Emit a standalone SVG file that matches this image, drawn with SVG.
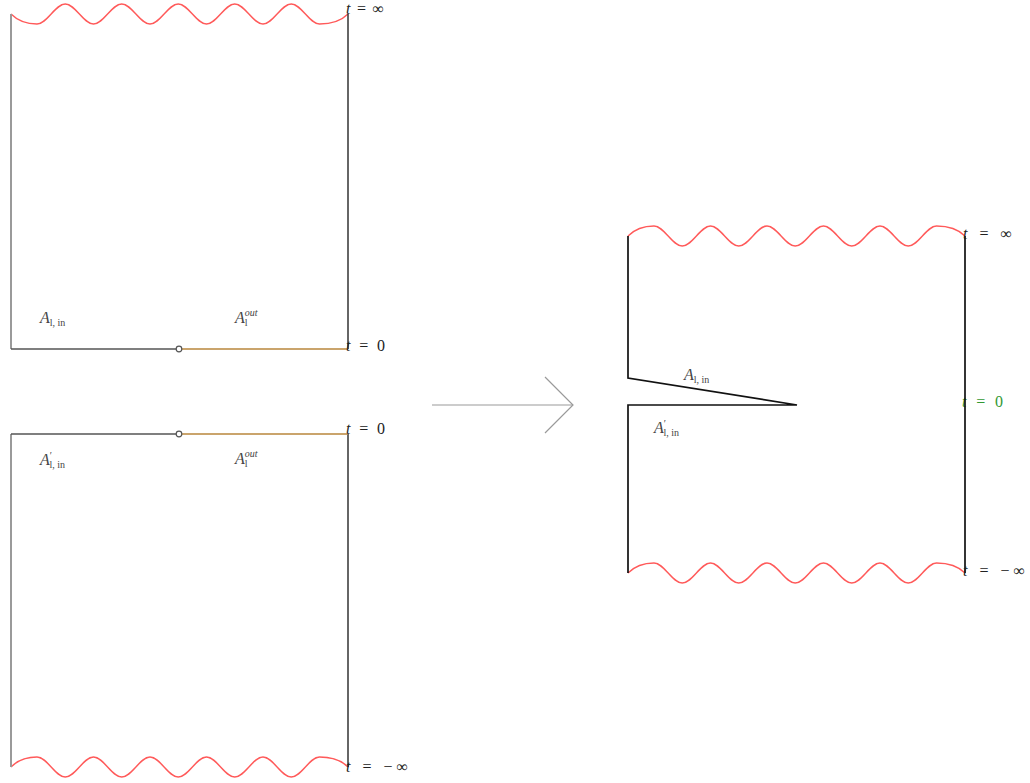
<svg xmlns="http://www.w3.org/2000/svg" xmlns:xlink="http://www.w3.org/1999/xlink" width="1030" height="783" viewBox="0 0 1030 783">
<style>
.wave{fill:none;stroke:#ff5a5a;stroke-width:1.4}
.gray{stroke:#9a9a9a;stroke-width:2;fill:none}
.dark{stroke:#333;stroke-width:1.5;fill:none}
.cut{stroke:#555;stroke-width:1.5;fill:none}
.brown{stroke:#b8863b;stroke-width:1.5;fill:none}
.blk{stroke:#111;stroke-width:1.7;fill:none}
.arr{stroke:#9a9a9a;stroke-width:1.2;fill:none}
text{font-family:"Liberation Serif",serif;font-size:16px;fill:#222}
.it{font-style:italic}
.sub{font-size:10px}
.lab{fill:#444}
.green{fill:#339933}
</style>
<defs>
<path id="w" class="wave" d="M0,0 C8,-8 16,-10 26,-10 C36.2,-10 44.1,10 54.25,10 C64.4,10 72.4,-10 82.5,-10 C92.6,-10 100.6,10 110.75,10 C120.9,10 128.9,-10 139,-10 C149.1,-10 157.1,10 167.25,10 C177.4,10 185.4,-10 195.5,-10 C205.6,-10 213.6,10 223.75,10 C233.9,10 241.9,-10 252,-10 C262.1,-10 270.1,10 280.25,10 C290.4,10 298.4,-10 308.5,-10 C318.5,-10 329,-8 337,0"/>
</defs>

<g id="top-left">
<use xlink:href="#w" href="#w" transform="translate(11,14) scale(1,-1)"/>
<line class="gray" x1="11" y1="14" x2="11" y2="349"/>
<line class="dark" x1="348" y1="14" x2="348" y2="349"/>
<line class="cut" x1="11" y1="349" x2="176.2" y2="349"/>
<line class="brown" x1="181.8" y1="349" x2="348" y2="349"/>
<circle cx="179" cy="349" r="2.8" fill="#fff" stroke="#555" stroke-width="1.2"/>
<text x="346" y="14" textLength="38" lengthAdjust="spacing"><tspan class="it">t</tspan> = ∞</text>
<text x="346" y="351" textLength="39" lengthAdjust="spacing"><tspan class="it">t</tspan> = 0</text>
<text x="40" y="323" class="lab"><tspan class="it">A</tspan><tspan class="sub" dy="3">l, in</tspan></text>
<text x="235" y="323" class="lab"><tspan class="it">A</tspan><tspan class="sub" dy="3">l</tspan><tspan class="sub it" dx="-2.8" dy="-10">out</tspan></text>
</g>

<g id="bottom-left">
<use xlink:href="#w" href="#w" transform="translate(11,767)"/>
<line class="gray" x1="11" y1="434" x2="11" y2="767"/>
<line class="dark" x1="348" y1="434" x2="348" y2="767"/>
<line class="cut" x1="11" y1="434" x2="176.2" y2="434"/>
<line class="brown" x1="181.8" y1="434" x2="348" y2="434"/>
<circle cx="179" cy="434" r="2.8" fill="#fff" stroke="#555" stroke-width="1.2"/>
<text x="346" y="434" textLength="39" lengthAdjust="spacing"><tspan class="it">t</tspan> = 0</text>
<text x="346" y="772" textLength="62" lengthAdjust="spacing"><tspan class="it">t</tspan> = −∞</text>
<text x="40" y="465" class="lab"><tspan class="it">A</tspan><tspan class="sub" dy="-6">′</tspan><tspan class="sub" dx="-2.5" dy="9">l, in</tspan></text>
<text x="235" y="464" class="lab"><tspan class="it">A</tspan><tspan class="sub" dy="3">l</tspan><tspan class="sub it" dx="-2.8" dy="-10">out</tspan></text>
</g>

<g id="connectors">
<line class="arr" x1="432" y1="405" x2="573" y2="405"/>
<polyline class="arr" points="545,377 573,405 545,433"/>
</g>

<g id="right">
<use xlink:href="#w" href="#w" transform="translate(628,236)"/>
<use xlink:href="#w" href="#w" transform="translate(628,573)"/>
<text x="962" y="407" class="green" textLength="41" lengthAdjust="spacing"><tspan class="it">t</tspan> = 0</text>
<polyline class="blk" points="628,236 628,378 797,405 628,405 628,573"/>
<line class="blk" x1="965" y1="236" x2="965" y2="573"/>
<text x="963" y="239" textLength="49" lengthAdjust="spacing"><tspan class="it">t</tspan> = ∞</text>
<text x="963" y="576" textLength="62" lengthAdjust="spacing"><tspan class="it">t</tspan> = −∞</text>
<text x="684" y="380" class="lab"><tspan class="it">A</tspan><tspan class="sub" dy="3">l, in</tspan></text>
<text x="654" y="433" class="lab"><tspan class="it">A</tspan><tspan class="sub" dy="-6">′</tspan><tspan class="sub" dx="-2.5" dy="9">l, in</tspan></text>
</g>
</svg>
